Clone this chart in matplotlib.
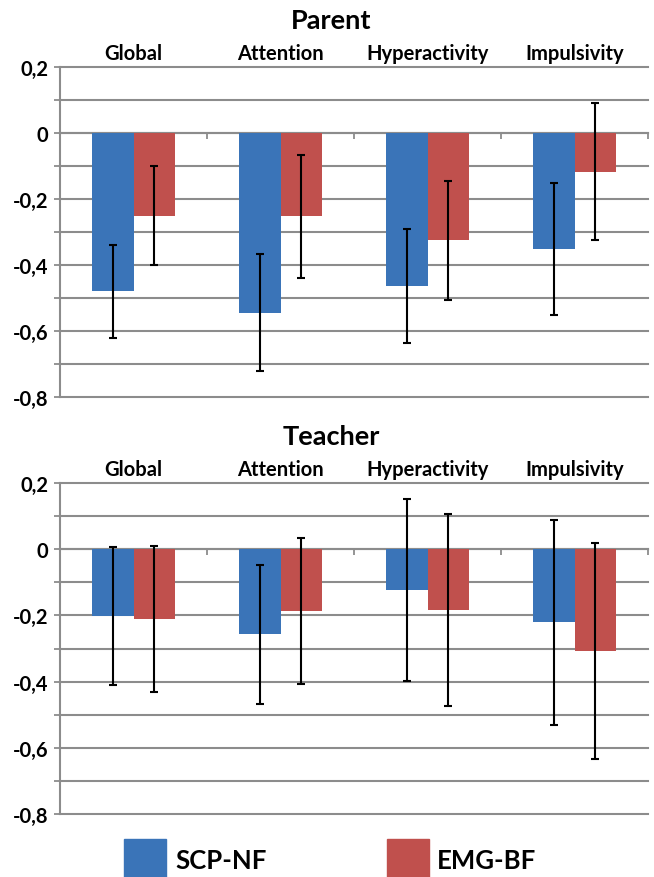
import matplotlib
matplotlib.use("Agg")
import matplotlib.pyplot as plt
import numpy as np
from matplotlib.patches import Rectangle
from matplotlib.ticker import MultipleLocator, FuncFormatter

plt.rcParams['font.family'] = ['Lato', 'DejaVu Sans']
plt.rcParams['font.weight'] = 'bold'

categories = ["Global", "Attention", "Hyperactivity", "Impulsivity"]
series_names = ["SCP-NF", "EMG-BF"]

parent_scp = [-0.48, -0.545, -0.464, -0.35]
parent_scp_err = [0.142, 0.177, 0.172, 0.20]
parent_emg = [-0.25, -0.253, -0.325, -0.117]
parent_emg_err = [0.149, 0.185, 0.181, 0.208]

teacher_scp = [-0.202, -0.257, -0.122, -0.221]
teacher_scp_err = [0.208, 0.21, 0.275, 0.31]
teacher_emg = [-0.21, -0.186, -0.183, -0.307]
teacher_emg_err = [0.22, 0.221, 0.29, 0.327]

BLUE = "#3A74B8"
RED = "#C0504D"
GRID = "#8C8C8C"

W, H = 654, 878
fig = plt.figure(figsize=(W / 100, H / 100), dpi=100)


def panel(rect, scp, scp_err, emg, emg_err):
    ax = fig.add_axes(rect)
    x = np.arange(len(categories))
    bw = 0.28
    ax.bar(x - bw / 2, scp, bw, color=BLUE, zorder=3)
    ax.bar(x + bw / 2, emg, bw, color=RED, zorder=3)
    for xs, vals, errs in ((x - bw / 2, scp, scp_err), (x + bw / 2, emg, emg_err)):
        ax.errorbar(xs, vals, yerr=errs, fmt="none", ecolor="black",
                    elinewidth=1.5, capsize=2.8, capthick=1.5, zorder=4)
    ax.set_xlim(-0.5, len(categories) - 0.5)
    ax.set_ylim(-0.8, 0.2)

    # y axis: labels every 0.2, gridlines every 0.1
    ax.yaxis.set_major_locator(MultipleLocator(0.2))
    ax.yaxis.set_minor_locator(MultipleLocator(0.1))
    ax.yaxis.set_major_formatter(
        FuncFormatter(lambda v, p: "0" if abs(v) < 1e-9 else f"{v:.1f}".replace(".", ",")))
    ax.tick_params(axis="y", which="both", length=4.3, width=1.3, color=GRID,
                   labelsize=14.5, pad=4)
    ax.grid(axis="y", which="both", color=GRID, linewidth=1.5, zorder=0)
    for t in ax.yaxis.get_major_ticks() + ax.yaxis.get_minor_ticks():
        t.gridline.set_clip_on(False)

    # x axis: zero line with boundary ticks, category names on top
    ax.spines["bottom"].set_position(("data", 0))
    ax.spines["bottom"].set_color(GRID)
    ax.spines["bottom"].set_linewidth(1.5)
    ax.spines["bottom"].set_zorder(2)
    ax.spines["left"].set_color(GRID)
    ax.spines["left"].set_linewidth(1.5)
    ax.spines["top"].set_visible(False)
    ax.spines["right"].set_visible(False)
    ax.set_xticks(x)
    ax.set_xticklabels(categories)
    ax.set_xticks(np.arange(len(categories) + 1) - 0.5, minor=True)
    ax.tick_params(axis="x", which="major", bottom=False, labelbottom=False,
                   top=True, labeltop=True, length=0, labelsize=14.5, pad=3)
    ax.tick_params(axis="x", which="minor", bottom=True, top=False,
                   length=4, width=1.3, color=GRID, direction="out")
    for lab in ax.get_xticklabels() + ax.get_yticklabels():
        lab.set_fontweight("bold")
    return ax


def rect(left, right, top, bottom):
    return [left / W, 1 - bottom / H, (right - left) / W, (bottom - top) / H]


panel(rect(60, 648, 68, 398), parent_scp, parent_scp_err, parent_emg, parent_emg_err)
panel(rect(60, 648, 484, 815), teacher_scp, teacher_scp_err, teacher_emg, teacher_emg_err)

fig.text(331 / W, 1 - 21 / H, "Parent", ha="center", va="center",
         fontsize=19.5, fontweight="bold")
fig.text(331 / W, 1 - 437 / H, "Teacher", ha="center", va="center",
         fontsize=19.5, fontweight="bold")

# legend keys along the bottom edge
for (x0, x1, tx), name, col in zip(((124, 166, 175), (387, 429, 437)),
                                   series_names, (BLUE, RED)):
    fig.patches.append(Rectangle((x0 / W, 0), (x1 - x0) / W, 38 / H,
                                 transform=fig.transFigure, color=col))
    fig.text(tx / W, 1 - 861 / H, name, ha="left", va="center",
             fontsize=18.5, fontweight="bold")

fig.savefig("out.png", dpi=100)
